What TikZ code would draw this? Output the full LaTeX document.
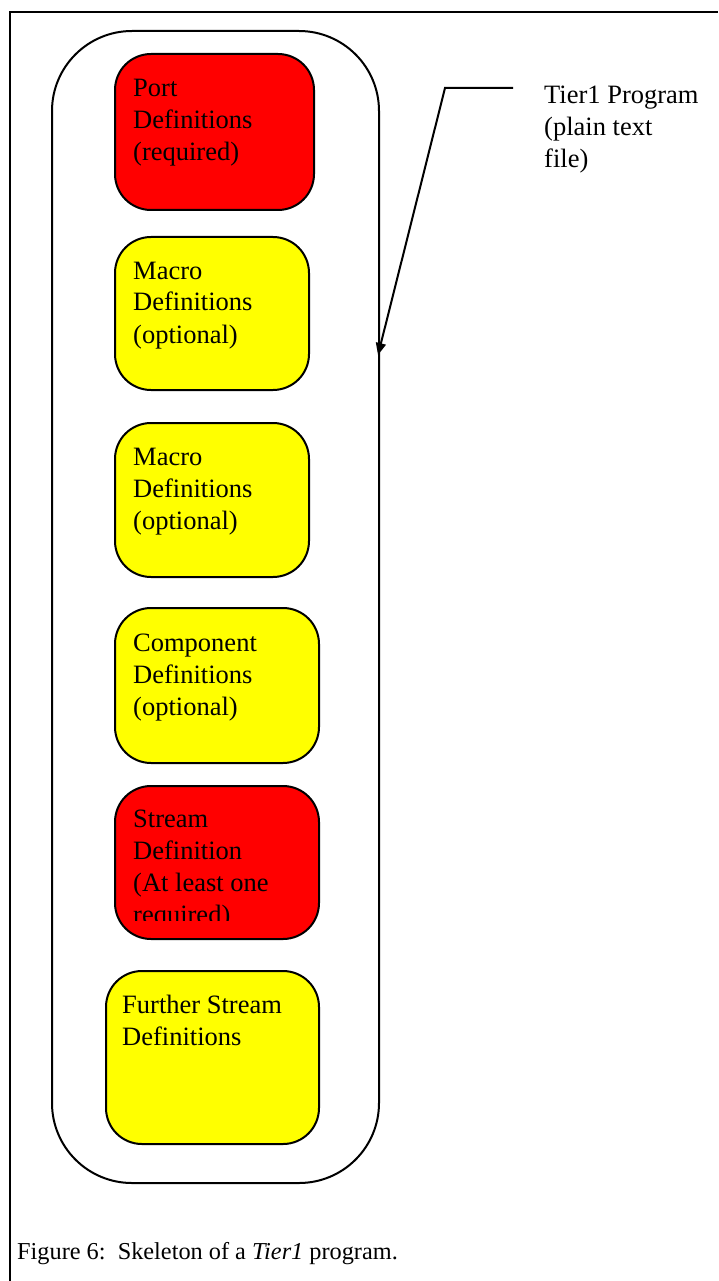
\documentclass[tikz,border=0pt]{standalone}
\usepackage{fontspec}
\setmainfont{Liberation Serif}
\usetikzlibrary{arrows.meta}

\definecolor{sectionred}{RGB}{255,0,0}
\definecolor{sectionyellow}{RGB}{255,255,0}

% Stacked left-aligned lines whose baseline is that of the first line
\newcommand\linestack[1]{\vtop{\baselineskip=32pt\lineskiplimit=-100pt\halign{##\hfil\cr#1\crcr}}}

\begin{document}
\begin{tikzpicture}[x=1pt,y=-1pt,
  txt/.style={font=\fontsize{26.5}{32}\selectfont, inner sep=0pt, anchor=base west},
  captiontxt/.style={font=\fontsize{24.3}{29}\selectfont, inner sep=0pt, anchor=base west},
  block/.style={draw, line width=2pt, rounded corners=36pt, inner sep=0pt, anchor=north west},
  redblock/.style={block, fill=sectionred},
  yellowblock/.style={block, fill=sectionyellow},
  container/.style={draw, line width=2pt, rounded corners=80pt, inner sep=0pt, anchor=north west},
  frameline/.style={line width=2pt},
  pointer/.style={line width=2pt, -{Triangle[length=12pt,width=10pt]}}]

\useasboundingbox (0,0) rectangle (718,1281);

% page frame
\draw[frameline] (10,1281) -- (10,12) -- (718,12);

% program container
\node[container, minimum width=327pt, minimum height=1152pt] (program) at (51,30) {};

% sections of the program
\node[redblock, minimum width=199pt, minimum height=156pt] (port) at (114,53) {};
\node[txt] (porttext) at (133,97) {\linestack{Port\cr Definitions\cr (required)}};

\node[yellowblock, minimum width=194pt, minimum height=153pt] (macroA) at (114,236) {};
\node[txt] (macroAtext) at (133,279) {\linestack{Macro\cr Definitions\cr (optional)}};

\node[yellowblock, minimum width=194pt, minimum height=154pt] (macroB) at (114,422) {};
\node[txt] (macroBtext) at (133,465) {\linestack{Macro\cr Definitions\cr (optional)}};

\node[yellowblock, minimum width=204pt, minimum height=155pt] (component) at (114,607) {};
\node[txt] (componenttext) at (133,651) {\linestack{Component\cr Definitions\cr (optional)}};

\node[redblock, minimum width=204pt, minimum height=153pt] (stream) at (114,785) {};
\begin{scope}
  \clip (114,785) rectangle (318,920);
  \node[txt] (streamtext) at (133,827) {\linestack{Stream\cr Definition\cr (At least one\cr required)}};
\end{scope}

\node[yellowblock, minimum width=213pt, minimum height=173pt] (further) at (105,970) {};
\node[txt] (furthertext) at (122,1013) {\linestack{Further Stream\cr Definitions}};

% label with its pointer onto the container
\node[txt] (label) at (544,104) {\linestack{Tier1 Program\cr (plain text\cr file)}};
\coordinate (lead) at (513,88);
\coordinate (bend) at (445,88);
\coordinate (tip) at (378,355);
\draw[pointer] (lead) -- (bend) -- (tip);

% caption
\node[captiontxt] (caption) at (17,1259) {Figure 6:\ \ Skeleton of a \textit{Tier1} program.};

\end{tikzpicture}
\end{document}
